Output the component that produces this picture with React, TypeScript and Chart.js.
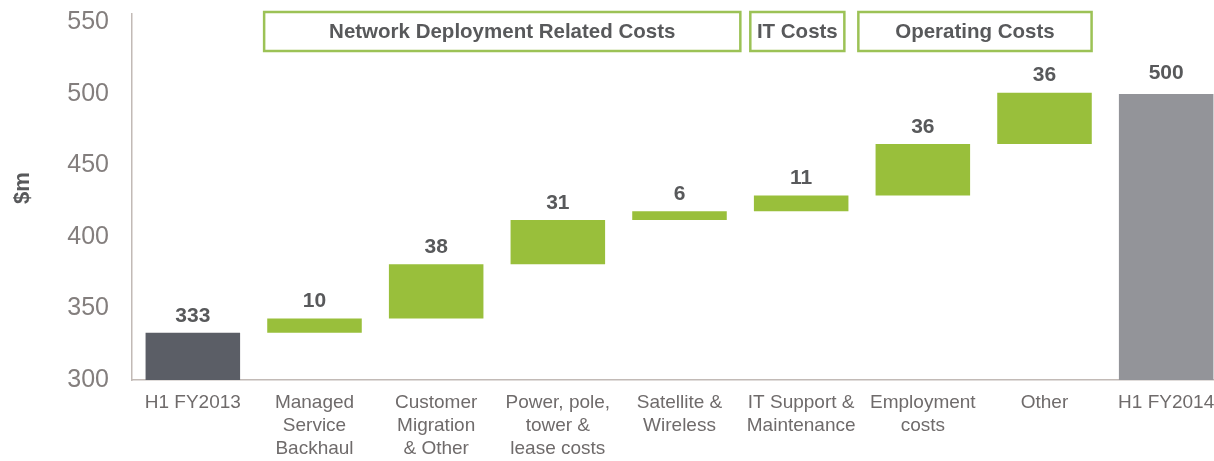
import React, { useEffect, useRef } from "react";
import { Chart, registerables } from "chart.js";

Chart.register(...registerables);

// ---- data ----
const categories: string[][] = [
  ["H1 FY2013"],
  ["Managed", "Service", "Backhaul"],
  ["Customer", "Migration", "& Other"],
  ["Power, pole,", "tower &", "lease costs"],
  ["Satellite &", "Wireless"],
  ["IT Support &", "Maintenance"],
  ["Employment", "costs"],
  ["Other"],
  ["H1 FY2014"],
];
const barStarts = [0, 333, 343, 381, 412, 418, 429, 465, 0];
const barEnds = [333, 343, 381, 412, 418, 429, 465, 501, 500];
const valueLabels = ["333", "10", "38", "31", "6", "11", "36", "36", "500"];
const barKinds = ["start", "step", "step", "step", "step", "step", "step", "step", "end"];
const yTicks = [300, 350, 400, 450, 500, 550];
const yTitle = "$m";
const groupLabels = ["Network Deployment Related Costs", "IT Costs", "Operating Costs"];
const groupFrom = [1, 5, 6];
const groupTo = [4, 5, 7];

// ---- styles ----
const FONT = "'Liberation Sans', Arial, Helvetica, sans-serif";
const kindColor: Record<string, string> = {
  start: "#5b5e66",
  step: "#99bf3b",
  end: "#939499",
};
const kindLabelGap: Record<string, number> = { start: 17, step: 17, end: 21 };
const AXIS_COLOR = "#c2bab6";
const TEXT_DARK = "#58595b";
const TICK_X = "#6f6b6b";
const TICK_Y = "#837e7d";
const BOX_GREEN = "#9cc256";
const groupInsetL = [-0.414, -0.418, -0.53];
const groupInsetR = [0.5, 0.355, 0.387];

const overlayPlugin = {
  id: "overlay",
  afterDatasetsDraw(chart: any) {
    const ctx = chart.ctx as CanvasRenderingContext2D;
    const meta = chart.getDatasetMeta(0);
    ctx.save();
    // value labels above bars
    ctx.font = `bold 21px ${FONT}`;
    ctx.fillStyle = TEXT_DARK;
    ctx.textAlign = "center";
    ctx.textBaseline = "middle";
    meta.data.forEach((el: any, i: number) => {
      const top = Math.min(el.y, el.base);
      ctx.fillText(valueLabels[i], el.x, top - kindLabelGap[barKinds[i]]);
    });
    // axis title
    ctx.save();
    ctx.translate(22.5, 188);
    ctx.rotate(-Math.PI / 2);
    ctx.font = `bold 22px ${FONT}`;
    ctx.fillStyle = TEXT_DARK;
    ctx.fillText(yTitle, 0, 0);
    ctx.restore();
    // group boxes
    const xs = chart.scales.x;
    const cat = (xs.right - xs.left) / categories.length;
    groupLabels.forEach((label, g) => {
      const l = xs.getPixelForValue(groupFrom[g]) + groupInsetL[g] * cat;
      const r = xs.getPixelForValue(groupTo[g]) + groupInsetR[g] * cat;
      const t = 12;
      const b = 51;
      ctx.strokeStyle = BOX_GREEN;
      ctx.lineWidth = 2.5;
      ctx.fillStyle = "#ffffff";
      ctx.fillRect(l, t, r - l, b - t);
      ctx.strokeRect(l, t, r - l, b - t);
      ctx.fillStyle = TEXT_DARK;
      ctx.font = `bold 20.5px ${FONT}`;
      ctx.fillText(label, (l + r) / 2, (t + b) / 2 + 0.5);
    });
    ctx.restore();
  },
};

export default function App() {
  const canvasRef = useRef<HTMLCanvasElement | null>(null);

  useEffect(() => {
    if (!canvasRef.current) return;
    const chart = new Chart(canvasRef.current, {
      type: "bar",
      data: {
        labels: categories,
        datasets: [
          {
            data: barStarts.map((s, i) => [s, barEnds[i]]) as any,
            backgroundColor: barKinds.map((k) => kindColor[k]),
            borderWidth: 0,
            barPercentage: 0.777,
            categoryPercentage: 1,
          },
        ],
      },
      options: {
        responsive: false,
        animation: false,
        layout: { padding: { top: 14, left: 0, right: 0, bottom: 0 } },
        plugins: {
          legend: { display: false },
          tooltip: { enabled: false },
          title: { display: false },
        },
        scales: {
          x: {
            grid: { display: false, drawTicks: false },
            border: { display: true, color: AXIS_COLOR, width: 1.5 },
            ticks: {
              color: TICK_X,
              font: { family: FONT, size: 19, lineHeight: 23 / 19 },
              padding: 11,
              maxRotation: 0,
              minRotation: 0,
              autoSkip: false,
            },
            afterFit: (s: any) => {
              s.height = 81;
              s.paddingLeft = 0;
              s.paddingRight = 0;
            },
          },
          y: {
            min: 300,
            max: 556,
            grid: { display: false, drawTicks: false },
            border: { display: true, color: AXIS_COLOR, width: 1.5 },
            ticks: {
              color: TICK_Y,
              font: { family: FONT, size: 25 },
              padding: 23,
              stepSize: 50,
            },
            afterBuildTicks: (s: any) => {
              s.ticks = yTicks.map((v) => ({ value: v }));
            },
            afterFit: (s: any) => {
              s.width = 132;
              s.paddingTop = 0;
              s.paddingBottom = 0;
            },
          },
        },
      },
      plugins: [overlayPlugin],
    });
    return () => chart.destroy();
  }, []);

  return (
    <div
      style={{
        position: "absolute",
        left: 0,
        top: 0,
        width: 1214,
        height: 461,
        overflow: "hidden",
        background: "#ffffff",
      }}
    >
      <canvas ref={canvasRef} width={1227} height={461} style={{ display: "block" }} />
    </div>
  );
}
